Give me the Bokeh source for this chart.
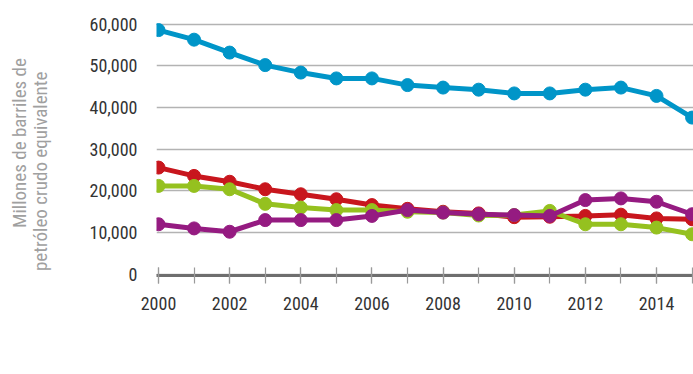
from bokeh.plotting import figure
from bokeh.models import (FixedTicker, Legend, LegendItem, Range1d,
                          NumeralTickFormatter)
from bokeh.embed import file_html
from bokeh.resources import INLINE

years = list(range(2000, 2016))
totales = [58600, 56300, 53200, 50200, 48400, 47000, 47000, 45400, 44800, 44300, 43400, 43400, 44300, 44800, 42800, 37600]
probadas = [25600, 23600, 22200, 20400, 19200, 18000, 16600, 15700, 15000, 14600, 13700, 13800, 14000, 14300, 13400, 13200]
probables = [21200, 21200, 20400, 16900, 16000, 15400, 15400, 15000, 14800, 14100, 14200, 15200, 12000, 12000, 11200, 9600]
posibles = [12000, 11000, 10200, 13000, 13000, 13000, 14000, 15400, 14800, 14400, 14200, 14000, 17800, 18200, 17400, 14400]

series_names = ["Reservas totales", "Probadas", "Probables", "Posibles"]
series_colors = ["#0095c8", "#c8161d", "#95c11f", "#951b81"]
y_ticks = [0, 10000, 20000, 30000, 40000, 50000, 60000]
x_label_ticks = [2000, 2002, 2004, 2006, 2008, 2010, 2012, 2014]
axis_title = "Millones de barriles de\npetróleo crudo equivalente" + "\u00a0" * 13

FONT = "'Roboto Condensed', 'DejaVu Sans Condensed', Roboto"

p = figure(frame_width=537, frame_height=265, output_backend="svg", toolbar_location=None,
           x_range=Range1d(1999.944, 2015.04), y_range=Range1d(-300, 63300),
           min_border_left=156, min_border_right=0, min_border_top=10,
           min_border_bottom=99)
p.outline_line_color = None
p.background_fill_color = "white"
p.border_fill_color = "white"

# axes
p.xaxis.ticker = FixedTicker(ticks=x_label_ticks, minor_ticks=years)
p.xaxis.axis_line_color = "#6e6e6e"
p.xaxis.axis_line_width = 3
p.xaxis.major_tick_line_color = "#9a9a9a"
p.xaxis.minor_tick_line_color = "#9a9a9a"
p.xaxis.major_tick_line_width = 1.2
p.xaxis.minor_tick_line_width = 1.2
p.xaxis.major_tick_in = 8
p.xaxis.major_tick_out = 8
p.xaxis.minor_tick_in = 8
p.xaxis.minor_tick_out = 8
p.xaxis.major_label_standoff = 13
p.xaxis.major_label_text_font = FONT
p.xaxis.major_label_text_font_size = "18px"
p.xaxis.major_label_text_color = "#333333"

p.yaxis.ticker = FixedTicker(ticks=y_ticks)
p.yaxis.formatter = NumeralTickFormatter(format="0,0")
p.yaxis.axis_line_color = None
p.yaxis.major_tick_line_color = None
p.yaxis.minor_tick_line_color = None
p.yaxis.major_label_standoff = 13
p.yaxis.major_label_text_font = FONT
p.yaxis.major_label_text_font_size = "18px"
p.yaxis.major_label_text_color = "#333333"
p.yaxis.axis_label = axis_title
p.yaxis.axis_label_text_font = FONT
p.yaxis.axis_label_text_font_size = "19px"
p.yaxis.axis_label_text_font_style = "normal"
p.yaxis.axis_label_text_color = "#a0a0a0"
p.yaxis.axis_label_standoff = 35
p.yaxis.axis_label_text_line_height = 0.9
p.yaxis.axis_label_text_align = "left"

p.xgrid.grid_line_color = None
p.ygrid.ticker = FixedTicker(ticks=y_ticks)
p.ygrid.grid_line_color = "#b3b3b3"
p.ygrid.grid_line_width = 1.5

items = []
all_series = [totales, probadas, probables, posibles]
for name, vals, col in zip(series_names, all_series, series_colors):
    r1 = p.line(years, vals, line_color=col, line_width=5)
    r2 = p.scatter(years, vals, size=13, fill_color=col, line_color=col)
    items.append(LegendItem(label=name, renderers=[r1, r2]))

legend = Legend(items=items, orientation="horizontal", location="top_right",
                background_fill_alpha=0, border_line_color=None,
                padding=0, margin=6, spacing=33, glyph_width=40,
                glyph_height=20, label_standoff=3, label_height=20,
                title=" ", title_text_font_size="10px", title_standoff=18,
                label_text_font=FONT, label_text_font_style="bold",
                label_text_font_size="19px", label_text_color="#222222")
p.add_layout(legend, "below")

open("out.html", "w").write(file_html(p, INLINE))
